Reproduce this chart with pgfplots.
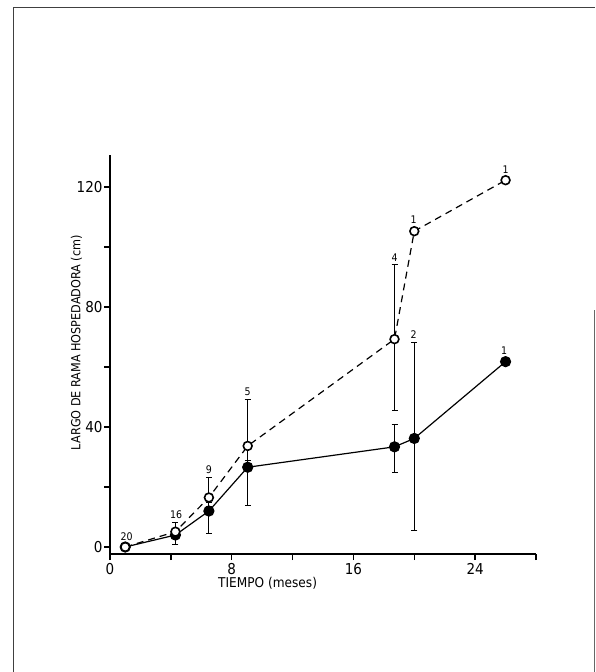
\documentclass[border=0pt]{standalone}
\usepackage{fontspec}
\setmainfont{DejaVu Sans Condensed}
\usepackage{pgfplots}
\usepackage{pgfplotstable}
\pgfplotsset{compat=1.18}

% tallos con parasito (abiertos) y sin (llenos)
\pgfplotstableread{
x     y      ep    em
1     0      0     0
4.3   5.1    3.1   1.0
6.5   16.5   6.8   3.0
9.05  33.7   15.5  4.9
18.7  69.3   24.9  23.9
20.0  105.3  0     0
26.0  122.3  0     0
}\abiertos
\pgfplotstableread{
x     y      ep    em
1     0      0     0
4.3   4.0    1.0   3.0
6.5   12.0   3.0   7.4
9.05  26.6   2.2   12.8
18.7  33.4   7.6   8.4
20.0  36.2   31.9  30.8
26.0  61.8   0     0
}\llenos

\begin{document}
\begin{tikzpicture}
\path[use as bounding box] (0,0) rectangle (595pt,672pt);
\draw[line width=1pt, black!75] (13.5pt,0) -- (13.5pt,664pt) -- (595pt,664pt);
\draw[line width=1pt, black!60] (594pt,0) -- (594pt,362pt);
\begin{axis}[
  at={(110pt,118pt)}, anchor=south west,
  scale only axis, width=426pt, height=399pt,
  xmin=0, xmax=28, ymin=-2.33, ymax=130.7,
  axis lines=left,
  axis line style={-, line width=1.6pt},
  xtick={0,8,16,24}, minor xtick={4,12,20,28},
  ytick={0,40,80,120}, minor ytick={20,60,100},
  tick align=outside,
  major tick length=6pt, minor tick length=6pt,
  tick style={line width=1.4pt, black},
  tick label style={font=\fontsize{15}{16}\selectfont},
  yticklabel style={xshift=2pt},
  /pgf/number format/assume math mode=true,
  xlabel={TIEMPO (meses)},
  ylabel={LARGO DE RAMA HOSPEDADORA (cm)},
  xlabel style={font=\fontsize{13.5}{14}\selectfont, at={(rel axis cs:0.37,-0.0727)}, anchor=center},
  ylabel style={font=\fontsize{12.5}{13}\selectfont, at={(rel axis cs:-0.0786,0.53)}, anchor=center},
  clip=false,
]
\addplot[black, line width=1.2pt, mark=*, mark size=5pt,
  error bars/.cd, y dir=both, y explicit,
  error bar style={line width=1pt, solid},
  error mark options={rotate=90, mark size=3pt, line width=1pt}]
  table[x=x, y=y, y error plus=ep, y error minus=em] {\llenos};
\addplot[black, line width=1.2pt, dash pattern=on 7pt off 5pt,
  mark=*, mark size=4.4pt, mark options={solid, fill=white, draw=black, line width=1.6pt},
  error bars/.cd, y dir=both, y explicit,
  error bar style={line width=1pt, solid},
  error mark options={rotate=90, mark size=3pt, line width=1pt}]
  table[x=x, y=y, y error plus=ep, y error minus=em] {\abiertos};

\begin{scope}[font=\fontsize{10.5}{11}\selectfont]
\node at (axis cs:1.1,3.4) {20};
\node at (axis cs:4.35,10.7) {16};
\node at (axis cs:6.5,25.7) {9};
\node at (axis cs:9.05,51.8) {5};
\node at (axis cs:18.7,96.6) {4};
\node at (axis cs:19.95,109) {1};
\node at (axis cs:26,125.9) {1};
\node at (axis cs:19.95,70.7) {2};
\node at (axis cs:25.9,65.3) {1};
\end{scope}
\end{axis}
\end{tikzpicture}
\end{document}
